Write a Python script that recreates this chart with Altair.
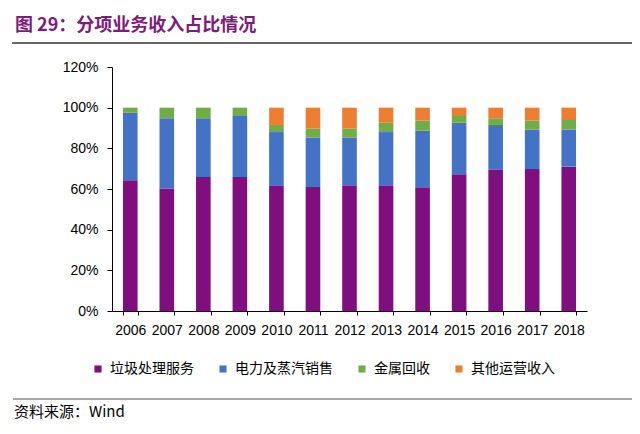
import altair as alt
import pandas as pd

years = [str(y) for y in range(2006, 2019)]
series = ["垃圾处理服务", "电力及蒸汽销售", "金属回收", "其他运营收入"]
colors = ["#7F0F7E", "#4472C4", "#70AD47", "#ED7D31"]

# shares in percent
waste = [64.3, 60.3, 65.9, 65.9, 61.5, 61.0, 61.5, 61.5, 60.8, 67.2, 69.4, 69.8, 71.0]
power = [33.3, 34.5, 28.9, 30.0, 26.5, 24.3, 23.8, 26.5, 27.9, 25.4, 22.1, 19.4, 18.2]
metal = [2.4, 5.2, 5.2, 4.1, 3.5, 4.5, 4.5, 4.6, 5.0, 3.3, 3.3, 4.5, 5.2]
other = [0.0, 0.0, 0.0, 0.0, 8.5, 10.2, 10.2, 7.4, 6.3, 4.1, 5.2, 6.3, 5.6]

y_ticks = [0, 0.2, 0.4, 0.6, 0.8, 1.0, 1.2]
title_text = "图 29：分项业务收入占比情况"
source_text = "资料来源：Wind"

rows = []
for i, yr in enumerate(years):
    for k, vals in enumerate([waste, power, metal, other]):
        rows.append({"year": yr, "series": series[k], "idx": k, "value": vals[i] / 100})
df = pd.DataFrame(rows)

purple = "#7E1A7E"
latin = "Liberation Sans"
cjk = "Noto Sans CJK SC"

bars = alt.Chart(df).mark_bar().encode(
    x=alt.X("year:N", sort=years, title=None,
            scale=alt.Scale(paddingInner=0.6, paddingOuter=0.3),
            axis=alt.Axis(labelAngle=0, tickBand="extent", tickSize=4, tickColor="#000",
                          domainColor="#000", labelFont=latin, labelFontSize=14,
                          labelColor="#000", labelPadding=8, grid=False)),
    y=alt.Y("value:Q", stack="zero", title=None,
            scale=alt.Scale(domain=[0, 1.2], nice=False),
            axis=alt.Axis(values=y_ticks, format=".0%", tickSize=5, tickColor="#000",
                          domainColor="#000", labelFont=latin, labelFontSize=14,
                          labelColor="#000", labelPadding=9, grid=False)),
    color=alt.Color("series:N", sort=series,
                    scale=alt.Scale(domain=series, range=colors),
                    legend=alt.Legend(title=None, orient="none", direction="horizontal",
                                      legendX=-21, legendY=295, symbolType="square",
                                      symbolSize=50, symbolStrokeWidth=0,
                                      labelFont=cjk, labelFontSize=14, labelColor="#000",
                                      columnPadding=22, labelOffset=5, padding=0)),
    order=alt.Order("idx:Q", sort="ascending"),
)

one = pd.DataFrame({"t": [title_text], "s": [source_text]})

title = alt.Chart(one).mark_text(align="left", baseline="middle", font=cjk,
                                 fontSize=18, fontWeight="bold", color=purple).encode(
    x=alt.value(-97), y=alt.value(-41), text="t:N")

top_rule = alt.Chart(one).mark_rule(color="#333", strokeWidth=1.5).encode(
    x=alt.value(-100), x2=alt.value(524), y=alt.value(-24))

bottom_rule = alt.Chart(one).mark_rule(color="#555", strokeWidth=1).encode(
    x=alt.value(-99), x2=alt.value(524), y=alt.value(332))

source = alt.Chart(one).mark_text(align="left", baseline="middle", font=cjk,
                                  fontSize=15, color="#000").encode(
    x=alt.value(-98), y=alt.value(345), text="s:N")

chart = alt.layer(bars, title, top_rule, bottom_rule, source).properties(
    width=475, height=244,
    autosize=alt.AutoSizeParams(type="none"),
    padding={"left": 104, "top": 59, "right": 45, "bottom": 115},
    background="white",
).configure_view(stroke=None)

chart.save("out.html", embed_options={"renderer": "svg", "actions": False})
